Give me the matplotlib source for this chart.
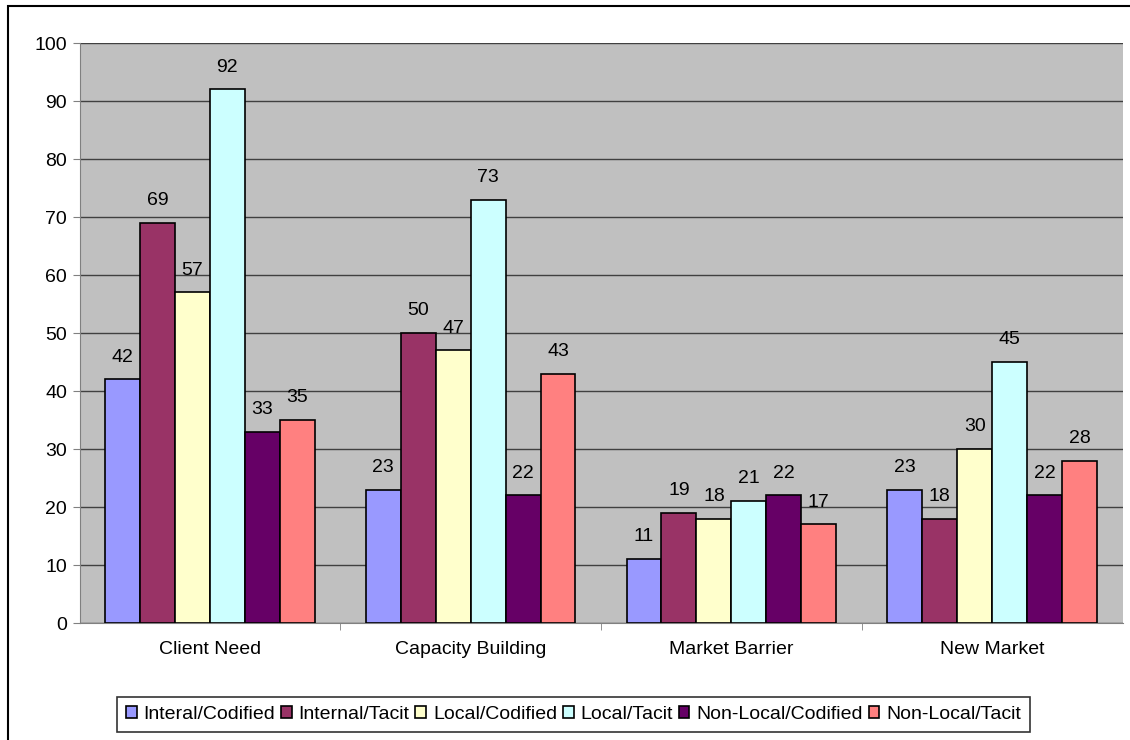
import numpy as np
import matplotlib.pyplot as plt
from matplotlib.patches import Rectangle

plt.rcParams['font.family'] = ['Liberation Sans', 'DejaVu Sans']

# data
categories = ['Client Need', 'Capacity Building', 'Market Barrier', 'New Market']
series = ['Interal/Codified', 'Internal/Tacit', 'Local/Codified',
          'Local/Tacit', 'Non-Local/Codified', 'Non-Local/Tacit']
interal_codified = [42, 23, 11, 23]
internal_tacit = [69, 50, 19, 18]
local_codified = [57, 47, 18, 30]
local_tacit = [92, 73, 21, 45]
nonlocal_codified = [33, 22, 22, 22]
nonlocal_tacit = [35, 43, 17, 28]
values = [interal_codified, internal_tacit, local_codified,
          local_tacit, nonlocal_codified, nonlocal_tacit]
colors = ['#9999FF', '#993366', '#FFFFCC', '#CCFFFF', '#660066', '#FF8080']

fs = 14

fig = plt.figure(figsize=(11.3, 7.4), dpi=100)
# outer chart border
fig.patches.append(Rectangle((8 / 1130, -0.01), 1.02, 1 - 6 / 740 + 0.01,
                             transform=fig.transFigure, fill=False,
                             edgecolor='black', linewidth=1.5))

ax = fig.add_axes([79.5 / 1130, 117 / 740, 1043 / 1130, 580 / 740])
ax.set_facecolor('#C0C0C0')

x = np.arange(len(categories))
n = len(series)
bw = 0.804 / n
for i, (name, vals, c) in enumerate(zip(series, values, colors)):
    pos = x - 0.402 + bw * (i + 0.5)
    bars = ax.bar(pos, vals, width=bw, color=c, edgecolor='black',
                  linewidth=1.2, label=name, zorder=3)
    for b, v in zip(bars, vals):
        ax.annotate(str(v), (b.get_x() + b.get_width() / 2, v),
                    xytext=(0, 10), textcoords='offset points',
                    ha='center', va='bottom', fontsize=fs)

ax.set_xlim(-0.5, len(categories) - 0.5)
ax.set_ylim(0, 100)
ax.set_yticks(range(0, 101, 10))
ax.yaxis.grid(True, color='#404040', linewidth=1, zorder=0)
ax.set_axisbelow(True)
ax.set_xticks(x)
ax.set_xticklabels(categories, fontsize=fs)
ax.set_xticks(np.arange(0.5, len(categories) - 1, 1), minor=True)
ax.tick_params(axis='x', which='major', length=0, pad=13)
ax.tick_params(axis='x', which='minor', length=5, color='#808080')
ax.tick_params(axis='y', labelsize=fs, length=5, color='#808080', pad=4)
for s in ['top', 'right']:
    ax.spines[s].set_visible(False)
for s in ['left', 'bottom']:
    ax.spines[s].set_color('#808080')

leg = fig.legend(loc='center', bbox_to_anchor=(573.5 / 1130, 1 - 714.5 / 740),
                 ncol=6, fontsize=fs, frameon=True, fancybox=False,
                 handlelength=0.55, handleheight=0.55, handletextpad=0.35,
                 columnspacing=0.3, borderpad=0.45, borderaxespad=0)
leg.get_frame().set_edgecolor('black')
leg.get_frame().set_linewidth(1.2)

fig.savefig('out.png', dpi=100)
